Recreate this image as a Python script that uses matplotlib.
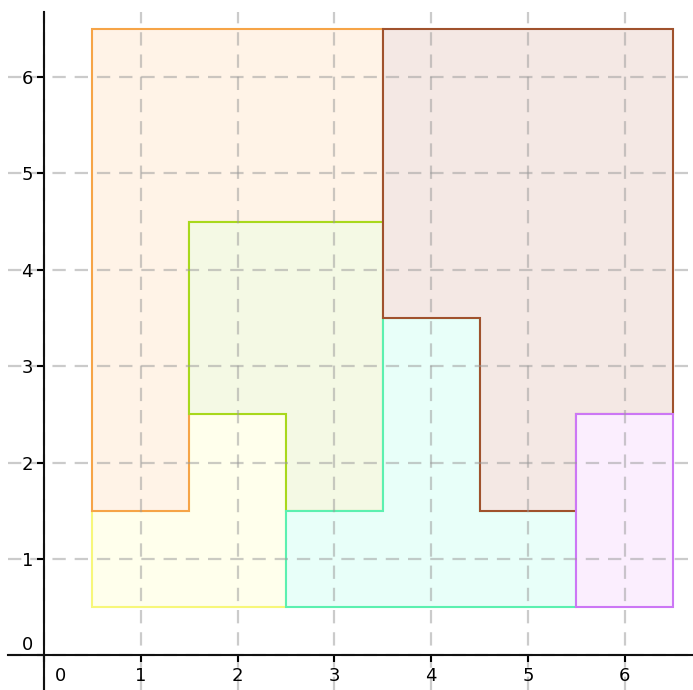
import numpy as np
import matplotlib
matplotlib.use("Agg")
import matplotlib.pyplot as plt
from matplotlib.patches import Polygon
import matplotlib.transforms as mtransforms

# region outlines (cell corners)
yellow_xy = [(0.5, 0.5), (2.5, 0.5), (2.5, 2.5), (1.5, 2.5), (1.5, 1.5), (0.5, 1.5)]
orange_xy = [(0.5, 1.5), (1.5, 1.5), (1.5, 4.5), (3.5, 4.5), (3.5, 6.5), (0.5, 6.5)]
lime_xy = [(1.5, 2.5), (2.5, 2.5), (2.5, 1.5), (3.5, 1.5), (3.5, 4.5), (1.5, 4.5)]
mint_xy = [(2.5, 0.5), (5.5, 0.5), (5.5, 1.5), (4.5, 1.5), (4.5, 3.5), (3.5, 3.5),
           (3.5, 1.5), (2.5, 1.5)]
brown_xy = [(3.5, 3.5), (4.5, 3.5), (4.5, 1.5), (5.5, 1.5), (5.5, 2.5), (6.5, 2.5),
            (6.5, 6.5), (3.5, 6.5)]
purple_xy = [(5.5, 0.5), (6.5, 0.5), (6.5, 2.5), (5.5, 2.5)]

regions = [
    (yellow_xy, "#f7f77a", "#ffffec"),
    (orange_xy, "#f6a447", "#fff3e7"),
    (lime_xy, "#a8d81c", "#f4f9e4"),
    (mint_xy, "#5cf0b0", "#e8fff9"),
    (brown_xy, "#a0522d", "#f4e8e4"),
    (purple_xy, "#cc77f5", "#fbeefe"),
]

xticks = [0, 1, 2, 3, 4, 5, 6]
yticks = [0, 1, 2, 3, 4, 5, 6]

fig = plt.figure(figsize=(6.93, 6.90), dpi=100)
ax = fig.add_axes([8 / 693, 0, 1 - 8 / 693, 1 - 12 / 690])

for xy, edge, face in regions:
    ax.add_patch(Polygon(xy, closed=True, facecolor=face, edgecolor=edge,
                         linewidth=1.5, zorder=1))

ax.set_xlim(-0.372, 6.704)
ax.set_ylim(-0.358, 6.675)

for side in ["left", "bottom"]:
    ax.spines[side].set_position(("data", 0))
    ax.spines[side].set_linewidth(1.5)
    ax.spines[side].set_color("#111111")
    ax.spines[side].set_zorder(5)
ax.spines["right"].set_visible(False)
ax.spines["top"].set_visible(False)

ax.set_xticks(xticks)
ax.set_yticks(yticks)
ax.tick_params(direction="out", length=5, width=1.5, labelsize=13, pad=3)

ax.grid(True, linestyle=(0, (6, 4)), color="#999999", alpha=0.5, linewidth=1.6, zorder=3)
ax.set_axisbelow(False)

# nudge the zero labels off the origin
xl = ax.get_xticklabels()[0]
xl.set_transform(xl.get_transform() + mtransforms.ScaledTranslation(16 / 100, 0, fig.dpi_scale_trans))
yl = ax.get_yticklabels()[0]
yl.set_transform(yl.get_transform() + mtransforms.ScaledTranslation(0, 12 / 100, fig.dpi_scale_trans))

fig.savefig("out.png", dpi=100)
